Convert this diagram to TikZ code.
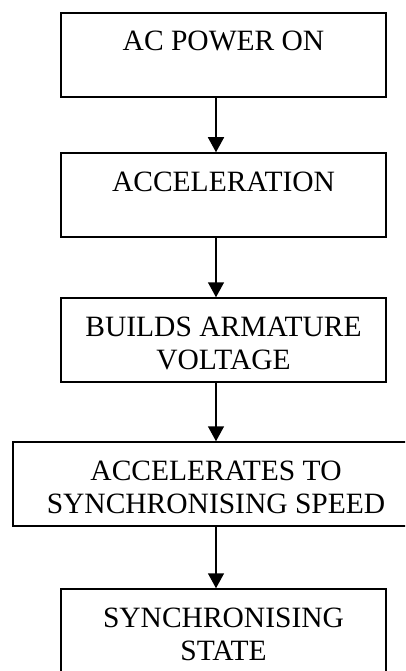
\documentclass[tikz,border=0pt]{standalone}
\usepackage{fontspec}
\setmainfont{Liberation Serif}
\usetikzlibrary{arrows.meta}
\begin{document}
\begin{tikzpicture}[x=1pt,y=1pt,
  flowbox/.style={draw=black, line width=1.5pt, inner sep=0pt, text height=38pt, text depth=46pt,
    font=\fontsize{29.5}{33}\selectfont, anchor=base},
  flowarrow/.style={line width=1.5pt, -{Triangle[length=15pt,width=16pt]}}]
\useasboundingbox (0,0) rectangle (405,-671);
\clip (0,0) rectangle (405,-671);
\coordinate (axis) at (216,0);
\node[flowbox, minimum width=325pt] (b1) at (223.5,-51) {\begin{tabular}[t]{@{}c@{}}AC POWER ON\end{tabular}};
\node[flowbox, minimum width=325pt] (b2) at (223.5,-191) {\begin{tabular}[t]{@{}c@{}}ACCELERATION\end{tabular}};
\node[flowbox, minimum width=325pt] (b3) at (223.5,-336) {\begin{tabular}[t]{@{}c@{}}BUILDS ARMATURE\\VOLTAGE\end{tabular}};
\node[flowbox, minimum width=406pt] (b4) at (216,-480) {\begin{tabular}[t]{@{}c@{}}ACCELERATES TO\\SYNCHRONISING SPEED\end{tabular}};
\node[flowbox, minimum width=325pt] (b5) at (223.5,-627) {\begin{tabular}[t]{@{}c@{}}SYNCHRONISING\\STATE\end{tabular}};
\draw[flowarrow] (b1.south -| axis) -- (b2.north -| axis);
\draw[flowarrow] (b2.south -| axis) -- (b3.north -| axis);
\draw[flowarrow] (b3.south -| axis) -- (b4.north -| axis);
\draw[flowarrow] (b4.south -| axis) -- (b5.north -| axis);
\end{tikzpicture}
\end{document}
